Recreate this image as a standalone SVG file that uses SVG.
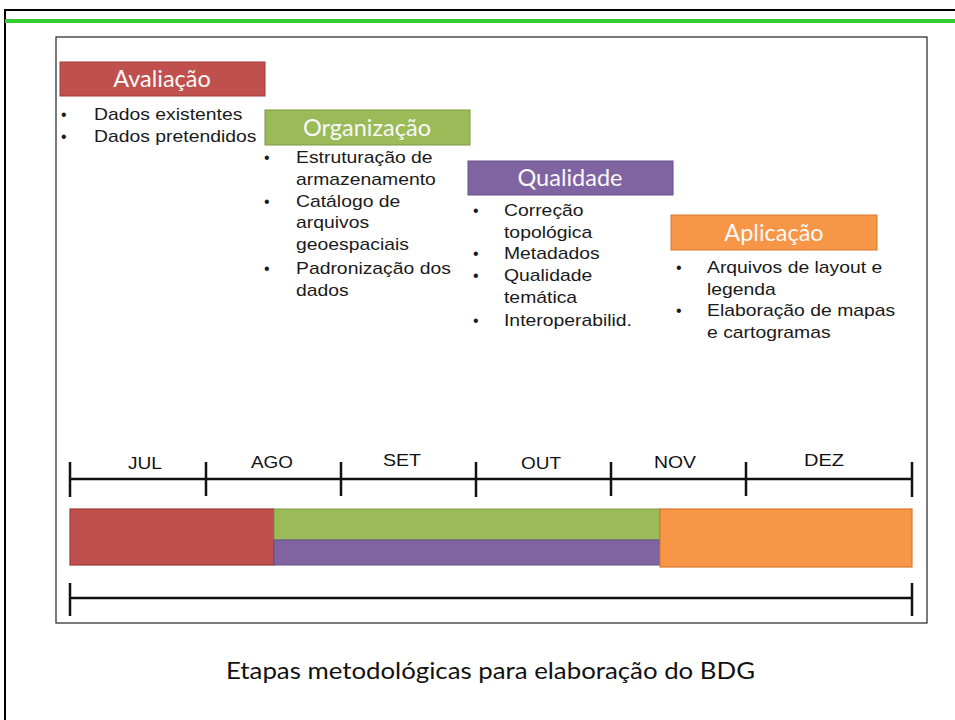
<svg xmlns="http://www.w3.org/2000/svg" width="955" height="720" viewBox="0 0 955 720">
<style>
.hdr{font-family:Lato,"Open Sans","Noto Sans",sans-serif;font-size:23.5px;fill:#f8f8f8;text-anchor:middle}
.bl{font-family:"Liberation Sans",Arial,sans-serif;font-size:16px;fill:#1a1a1a;transform-box:fill-box;transform-origin:0 0;transform:scaleX(1.21)}
.dot{font-family:"Liberation Sans",Arial,sans-serif;font-size:16px;fill:#1a1a1a}
.mo{font-family:"Liberation Sans",Arial,sans-serif;font-size:17px;fill:#111;text-anchor:middle}
.tl{stroke:#111;stroke-width:2.5;fill:none}
.cap{font-family:Lato,"Open Sans",sans-serif;font-size:24px;fill:#111}
</style>
<rect width="955" height="720" fill="#fff"/>
<path d="M5,720 V10 H955" fill="none" stroke="#000" stroke-width="2"/>
<line x1="5" y1="21" x2="955" y2="21" stroke="#33cc33" stroke-width="4"/>
<rect x="56" y="37" width="871" height="586" fill="#fff" stroke="#222" stroke-width="1.2"/>

<g id="avaliacao">
<rect x="60" y="62" width="205" height="34" fill="#C0504D" stroke="#a03c3a" stroke-width="1"/>
<text class="hdr" x="162" y="87">Avaliação</text>
<text class="dot" x="61" y="120">•</text><text class="bl" x="94" y="120">Dados existentes</text>
<text class="dot" x="61" y="142">•</text><text class="bl" x="94" y="142">Dados pretendidos</text>
</g>

<g id="organizacao">
<rect x="265" y="110" width="205" height="35" fill="#9BBB59" stroke="#7d9a45" stroke-width="1"/>
<text class="hdr" x="367" y="136">Organização</text>
<text class="dot" x="264" y="163">•</text><text class="bl" x="296" y="163">Estruturação de</text>
<text class="bl" x="296" y="185">armazenamento</text>
<text class="dot" x="264" y="207">•</text><text class="bl" x="296" y="207">Catálogo de</text>
<text class="bl" x="296" y="228">arquivos</text>
<text class="bl" x="296" y="250">geoespaciais</text>
<text class="dot" x="264" y="274">•</text><text class="bl" x="296" y="274">Padronização dos</text>
<text class="bl" x="296" y="296">dados</text>
</g>

<g id="qualidade">
<rect x="468" y="161" width="205" height="34" fill="#8064A2" stroke="#64508a" stroke-width="1"/>
<text class="hdr" x="570" y="186">Qualidade</text>
<text class="dot" x="473" y="216">•</text><text class="bl" x="504" y="216">Correção</text>
<text class="bl" x="504" y="238">topológica</text>
<text class="dot" x="473" y="259">•</text><text class="bl" x="504" y="259">Metadados</text>
<text class="dot" x="473" y="281">•</text><text class="bl" x="504" y="281">Qualidade</text>
<text class="bl" x="504" y="303">temática</text>
<text class="dot" x="473" y="326">•</text><text class="bl" x="504" y="326">Interoperabilid.</text>
</g>

<g id="aplicacao">
<rect x="671" y="215" width="206" height="35" fill="#F79646" stroke="#d9782c" stroke-width="1"/>
<text class="hdr" x="774" y="241">Aplicação</text>
<text class="dot" x="676" y="273">•</text><text class="bl" x="707" y="273">Arquivos de layout e</text>
<text class="bl" x="707" y="295">legenda</text>
<text class="dot" x="676" y="316">•</text><text class="bl" x="707" y="316">Elaboração de mapas</text>
<text class="bl" x="707" y="338">e cartogramas</text>
</g>

<g id="timeline">
<path class="tl" d="M70,479 H912 M70,462 V497 M206,462 V496 M341,462 V496 M476,462 V497 M611,462 V496 M746,462 V496 M912,462 V497"/>
<text class="mo" x="145" y="469" textLength="34" lengthAdjust="spacingAndGlyphs">JUL</text>
<text class="mo" x="272" y="468" textLength="42" lengthAdjust="spacingAndGlyphs">AGO</text>
<text class="mo" x="402" y="466" textLength="38" lengthAdjust="spacingAndGlyphs">SET</text>
<text class="mo" x="541" y="469" textLength="40" lengthAdjust="spacingAndGlyphs">OUT</text>
<text class="mo" x="675" y="468" textLength="42" lengthAdjust="spacingAndGlyphs">NOV</text>
<text class="mo" x="824" y="466" textLength="40" lengthAdjust="spacingAndGlyphs">DEZ</text>
</g>

<g id="bars">
<rect x="70" y="509" width="204" height="56" fill="#C0504D" stroke="#9c3b38" stroke-width="1.2"/>
<rect x="274" y="509" width="386" height="31" fill="#9BBB59" stroke="#7d9a45" stroke-width="1"/>
<rect x="274" y="540" width="386" height="25" fill="#8064A2" stroke="#64508a" stroke-width="1"/>
<rect x="660" y="509" width="252" height="58" fill="#F79646" stroke="#d9782c" stroke-width="1.2"/>
</g>

<g id="total">
<path class="tl" d="M70,598 H912 M70,583 V616 M912,583 V616"/>
</g>

<text class="cap" x="226" y="679" textLength="529" lengthAdjust="spacingAndGlyphs">Etapas metodológicas para elaboração do BDG</text>
</svg>
